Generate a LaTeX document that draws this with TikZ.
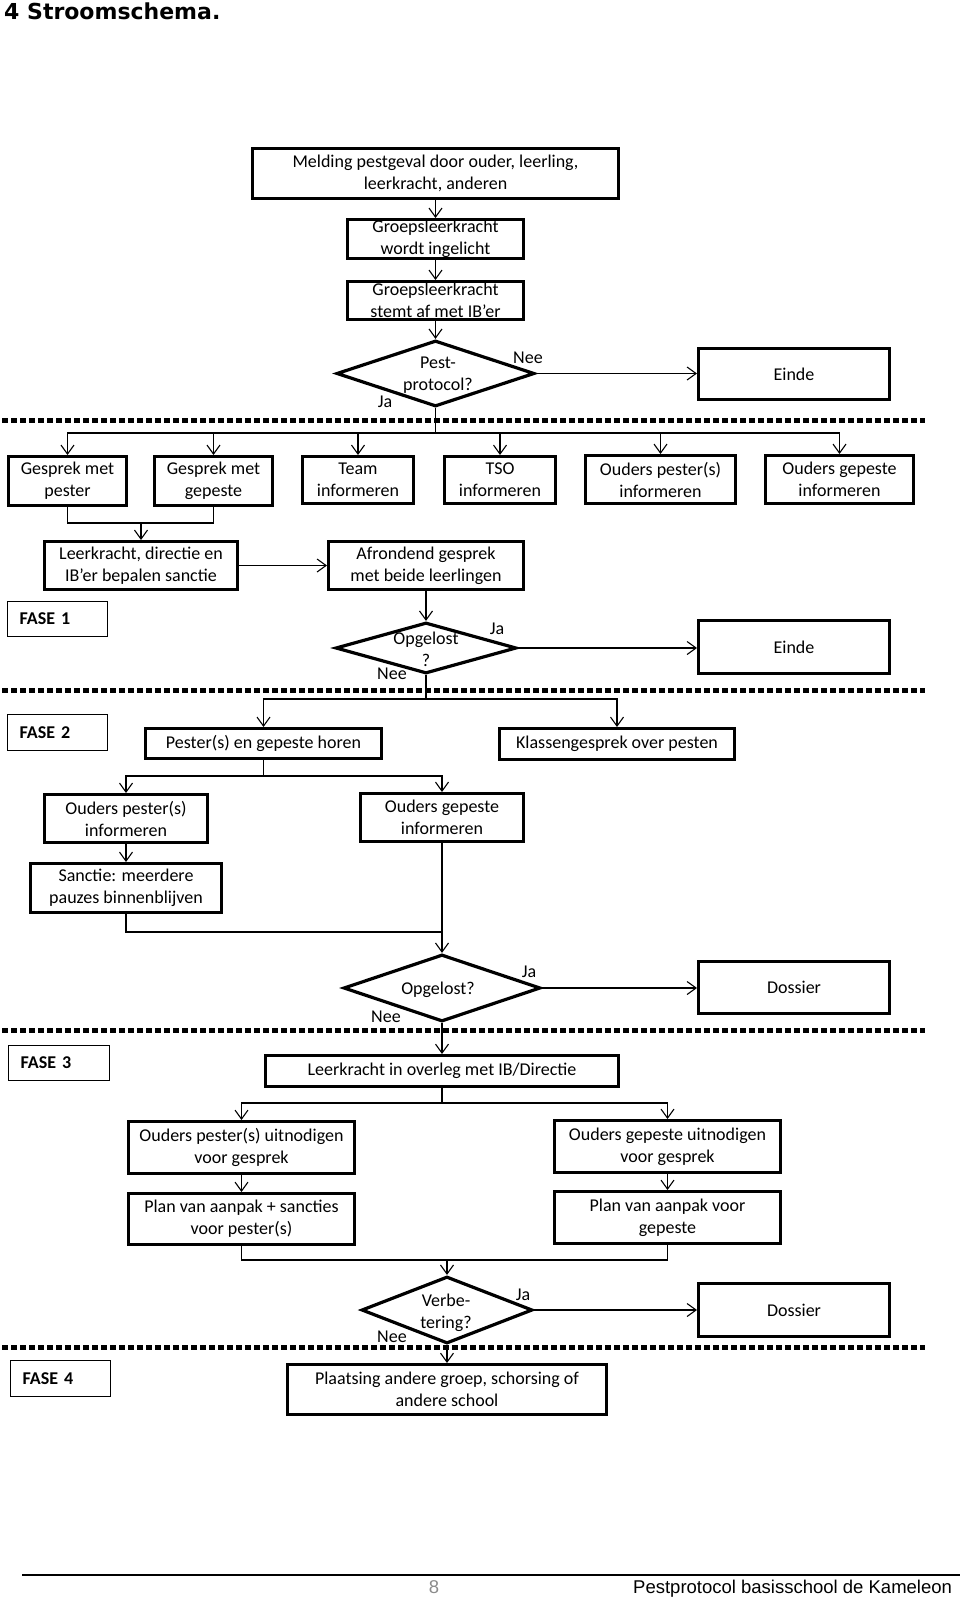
\documentclass[tikz,border=0pt]{standalone}
\usepackage{fontspec}
\setmainfont{Carlito}
\newfontfamily\titlefont{DejaVu Sans}
\newfontfamily\footfont{Liberation Sans}
\usetikzlibrary{arrows.meta,shapes.geometric}
\tikzset{
  pbox/.style={draw, line width=3pt, align=center, inner sep=0pt, font=\fontsize{18}{22}\selectfont},
  fasebox/.style={draw, line width=1.2pt, inner ysep=0pt, align=left, font=\bfseries\fontsize{18}{22}\selectfont},
  dia/.style={draw, diamond, line width=3.2pt, inner sep=0pt},
  lbl/.style={inner sep=0pt, font=\fontsize{18}{22}\selectfont, align=center},
  conn/.style={line width=1.1pt},
  arr/.style={conn, -{Straight Barb[length=9pt,width=13pt]}},
  divider/.style={line width=5pt, dash pattern=on 6pt off 3pt},
}
\newcommand\mkbox[7][pbox]{%
  \pgfmathsetmacro\bxcx{(#3+#5)/2}%
  \pgfmathsetmacro\bxcy{(#4+#6)/2}%
  \pgfmathsetmacro\bxw{#5-#3-3}%
  \pgfmathsetmacro\bxh{#6-#4-3}%
  \node[#1, minimum width=\bxw pt, minimum height=\bxh pt] (#2) at (\bxcx,\bxcy) {#7};}
\newcommand\mkfase[6]{%
  \pgfmathsetmacro\bxcx{(#2+#4)/2}%
  \pgfmathsetmacro\bxcy{(#3+#5)/2}%
  \pgfmathsetmacro\bxw{#4-#2-1.2-24}%
  \pgfmathsetmacro\bxh{#5-#3-1.2}%
  \node[fasebox, text width=\bxw pt, inner xsep=12pt, minimum height=\bxh pt] (#1) at (\bxcx,\bxcy) {#6};}
\newcommand\mkdia[5]{%
  \pgfmathsetmacro\bxcx{(#2+#4)/2}%
  \pgfmathsetmacro\bxcy{(#3+#5)/2}%
  \pgfmathsetmacro\bxw{#4-#2-3}%
  \pgfmathsetmacro\bxh{#5-#3-3}%
  \node[dia, minimum width=\bxw pt, minimum height=\bxh pt] (#1) at (\bxcx,\bxcy) {};}
\begin{document}
\begin{tikzpicture}[x=1pt,y=-1pt]
\fill[white] (0,0) rectangle (960,1600);
\useasboundingbox (0,0) rectangle (960,1600);

% title
\node[anchor=base west, inner sep=0pt, font=\titlefont\bfseries\fontsize{22}{26}\selectfont] (title) at (4,19.5) {4 Stroomschema.};

% dividers
\draw[divider] (2,420) -- (925,420);
\draw[divider] (2,690) -- (925,690);
\draw[divider] (2,1030) -- (925,1030);
\draw[divider] (2,1347) -- (925,1347);

% top part
\mkbox{m}{251}{147}{620}{200}{Melding pestgeval door ouder, leerling,\\leerkracht, anderen}
\mkbox{g1}{346}{218}{525}{260}{Groepsleerkracht\\wordt ingelicht}
\mkbox{g2}{346}{280}{525}{321}{Groepsleerkracht\\stemt af met IB’er}
\mkdia{pp}{335}{339}{536}{408}
\node[lbl] (ppt) at (438,375) {Pest-\\protocol?};
\node[lbl] (ppn) at (528,358) {Nee};
\node[lbl] (ppj) at (385,402) {Ja};
\mkbox{e1}{697}{347}{891}{401}{Einde}
\draw[arr] (m.south) -- (g1.north);
\draw[arr] (g1.south) -- (g2.north);
\draw[arr] (g2.south) -- (pp.north);
\draw[arr] (pp.east) -- (pp.east -| e1.west);

% row of six
\mkbox{b1}{7}{455}{128}{507}{Gesprek met\\pester}
\mkbox{b2}{153}{455}{274}{507}{Gesprek met\\gepeste}
\mkbox{b3}{301}{455}{415}{505}{Team\\informeren}
\mkbox{b4}{443}{455}{557}{505}{TSO\\informeren}
\mkbox{b5}{584}{454}{737}{505}{Ouders pester(s)\\informeren}
\mkbox{b6}{764}{454}{915}{505}{Ouders gepeste\\informeren}
\coordinate (j1) at (435.5,433);
\draw[conn] (pp.south) -- (j1);
\foreach \b in {b1,b2,b3,b4,b5,b6} \draw[arr] (j1) -| (\b.north);

% fase 1
\mkbox{lk}{43}{540}{239}{591}{Leerkracht, directie en\\IB’er bepalen sanctie}
\mkbox{af}{327}{540}{525}{591}{Afrondend gesprek\\met beide leerlingen}
\coordinate (j2) at (141,523);
\draw[conn] (b1.south) |- (j2) -| (b2.south);
\draw[arr] (j2) -- (lk.north);
\draw[arr] (lk.east) -- (af.west);
\mkfase{f1}{7}{601}{108}{637}{FASE 1}
\mkdia{op1}{334}{621}{518}{675}
\node[lbl] (op1t) at (426,649) {Opgelost\\?};
\node[lbl] (op1j) at (497,629) {Ja};
\node[lbl] (op1n) at (392,674) {Nee};
\mkbox{e2}{697}{619}{891}{675}{Einde}
\draw[arr] (af.south) -- (op1.north);
\draw[arr] (op1.east) -- (op1.east -| e2.west);

% fase 2
\mkfase{f2}{7}{714}{108}{751}{FASE 2}
\mkbox{ph}{144}{727}{383}{760}{Pester(s) en gepeste horen}
\mkbox{kg}{498}{727}{736}{761}{Klassengesprek over pesten}
\coordinate (j3) at (426,699);
\draw[conn] (op1.south) -- (j3);
\draw[arr] (j3) -| (ph.north);
\draw[arr] (j3) -| (kg.north);
\mkbox{op}{43}{793}{209}{844}{Ouders pester(s)\\informeren}
\mkbox{og}{359}{792}{525}{843}{Ouders gepeste\\informeren}
\coordinate (j4) at (263.5,776);
\draw[conn] (ph.south) -- (j4);
\draw[arr] (j4) -| (op.north);
\draw[arr] (j4) -| (og.north);
\mkbox{sa}{29}{862}{223}{914}{Sanctie: meerdere\\pauzes binnenblijven}
\draw[arr] (op.south) -- (sa.north);
\mkdia{op2}{342}{953}{542}{1023}
\node[lbl] (op2t) at (438,990) {Opgelost?};
\node[lbl] (op2j) at (529,972) {Ja};
\node[lbl] (op2n) at (386,1017) {Nee};
\coordinate (j5) at (442,932);
\draw[conn] (sa.south) |- (j5);
\draw[arr] (og.south) -- (op2.north);
\mkbox{d1}{697}{960}{891}{1015}{Dossier}
\draw[arr] (op2.east) -- (op2.east -| d1.west);

% fase 3
\mkfase{f3}{8}{1045}{110}{1081}{FASE 3}
\mkbox{lo}{264}{1054}{620}{1088}{Leerkracht in overleg met IB/Directie}
\draw[arr] (op2.south) -- (lo.north);
\coordinate (j6) at (442,1103);
\draw[conn] (lo.south) -- (j6);
\mkbox{u1}{127}{1120}{356}{1175}{Ouders pester(s) uitnodigen\\voor gesprek}
\mkbox{u2}{553}{1119}{782}{1174}{Ouders gepeste uitnodigen\\voor gesprek}
\draw[arr] (j6) -| (u1.north);
\draw[arr] (j6) -| (u2.north);
\mkbox{p1}{127}{1192}{356}{1246}{Plan van aanpak + sancties\\voor pester(s)}
\mkbox{p2}{553}{1190}{782}{1245}{Plan van aanpak voor\\gepeste}
\draw[arr] (u1.south) -- (p1.north);
\draw[arr] (u2.south) -- (p2.north);
\coordinate (j7) at (447,1260);
\draw[conn] (p1.south) |- (j7) -| (p2.south);
\mkdia{vb}{360}{1275}{534}{1345}
\node[lbl] (vbt) at (446,1313) {Verbe-\\tering?};
\node[lbl] (vbj) at (523,1295) {Ja};
\node[lbl] (vbn) at (392,1337) {Nee};
\draw[arr] (j7) -- (vb.north);
\mkbox{d2}{697}{1282}{891}{1338}{Dossier}
\draw[arr] (vb.east) -- (vb.east -| d2.west);

% fase 4
\mkfase{f4}{10}{1360}{111}{1397}{FASE 4}
\mkbox{pl}{286}{1363}{608}{1416}{Plaatsing andere groep, schorsing of\\andere school}
\draw[arr] (vb.south) -- (pl.north);

% footer
\coordinate (fl) at (22,1575);
\coordinate (fr) at (960,1575);
\draw[line width=1.3pt] (fl) -- (fr);
\node[anchor=base, inner sep=0pt, text=black!45, font=\footfont\fontsize{18.5}{22}\selectfont] (pg) at (434,1593) {8};
\node[anchor=base west, inner sep=0pt, font=\footfont\fontsize{18.5}{22}\selectfont] (ft) at (633,1593) {Pestprotocol basisschool de Kameleon};
\end{tikzpicture}
\end{document}
